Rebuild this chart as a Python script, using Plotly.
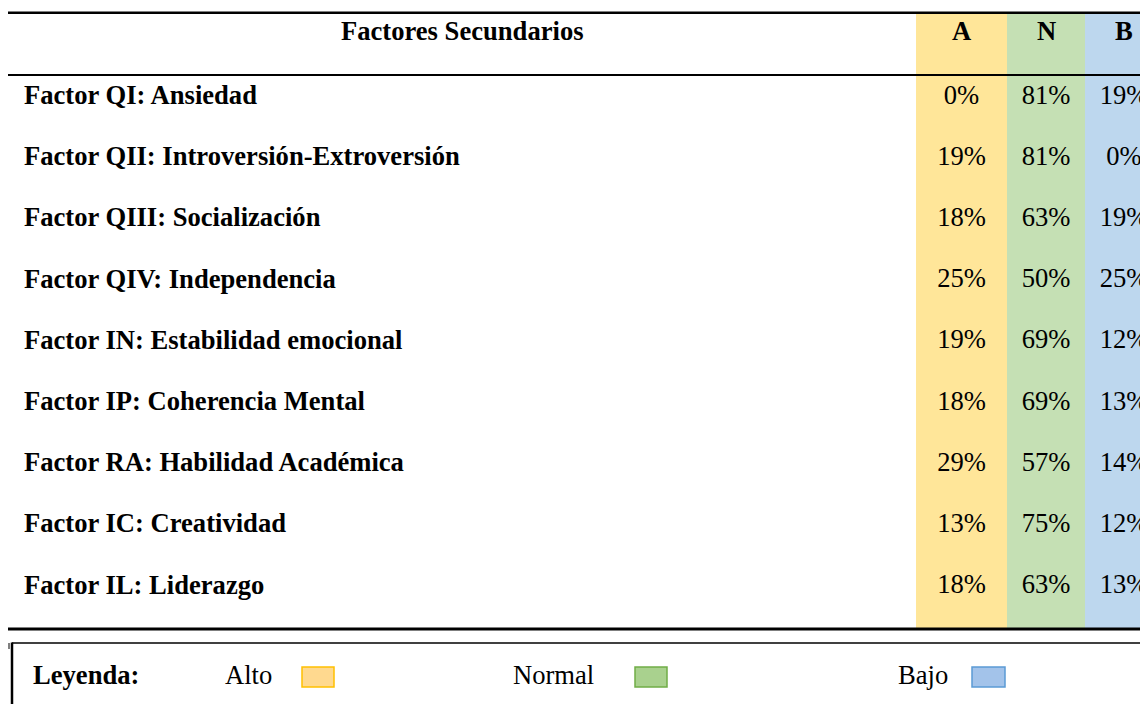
import plotly.graph_objects as go

# ---------------- data ----------------
header_title = "Factores Secundarios"
col_headers = ["A", "N", "B"]
factores = [
    "Factor QI: Ansiedad",
    "Factor QII: Introversión-Extroversión",
    "Factor QIII: Socialización",
    "Factor QIV: Independencia",
    "Factor IN: Estabilidad emocional",
    "Factor IP: Coherencia Mental",
    "Factor RA: Habilidad Académica",
    "Factor IC: Creatividad",
    "Factor IL: Liderazgo",
]
alto = [0, 19, 18, 25, 19, 18, 29, 13, 18]
normal = [81, 81, 63, 50, 69, 69, 57, 75, 63]
bajo = [19, 0, 19, 25, 12, 13, 14, 12, 13]
legend_title = "Leyenda:"
legend_labels = ["Alto", "Normal", "Bajo"]

# ---------------- layout / style ----------------
W, H = 1148, 704          # browser window
OFF = 8                   # default page margin around the figure
FONT = "Liberation Serif, Times New Roman, serif"
FS = 26.6
col_fill = ["#FFE699", "#C5E0B4", "#BDD7EE"]
sw_fill = ["#FFD98F", "#A9D18E", "#A3C3EA"]
sw_line = ["#FFC000", "#70AD47", "#5B9BD5"]
col_edges = [(916, 1007), (1007, 1085), (1085, 1163)]
col_centers = [(a + b) / 2 for a, b in col_edges]
col_centers[2] = 1124
table_top, header_line, table_bottom = 12.7, 75, 629
row_y0, row_step = 95, 61.2
row_ys = [row_y0 + i * row_step for i in range(len(factores))]
header_y = 31

fig = go.Figure()

shapes = []
for (x0, x1), c in zip(col_edges, col_fill):
    shapes.append(dict(type="rect", xref="x", yref="y", x0=x0, x1=x1,
                       y0=table_top, y1=table_bottom, fillcolor=c,
                       line=dict(width=0), layer="below"))
# rules
shapes += [
    dict(type="line", xref="x", yref="y", x0=8, x1=W, y0=table_top, y1=table_top,
         line=dict(color="black", width=2.5)),
    dict(type="line", xref="x", yref="y", x0=8, x1=W, y0=header_line, y1=header_line,
         line=dict(color="black", width=2)),
    dict(type="line", xref="x", yref="y", x0=8, x1=W, y0=table_bottom, y1=table_bottom,
         line=dict(color="black", width=3)),
    dict(type="line", xref="x", yref="y", x0=12, x1=W, y0=643, y1=643,
         line=dict(color="black", width=1.5)),
    dict(type="line", xref="x", yref="y", x0=12, x1=12, y0=642.5, y1=H,
         line=dict(color="black", width=2.5)),
    dict(type="line", xref="x", yref="y", x0=9, x1=9, y0=643, y1=649,
         line=dict(color="black", width=1)),
]

# value columns as text traces
for vals, cx in zip([alto, normal, bajo], col_centers):
    fig.add_trace(go.Scatter(
        x=[cx] * len(vals), y=[y + 2 for y in row_ys], mode="text",
        text=[f"{v}%" for v in vals], textposition="middle center",
        textfont=dict(family=FONT, size=FS, color="black"),
        hoverinfo="skip", showlegend=False, cliponaxis=True))

annotations = []
annotations.append(dict(x=462, y=header_y, xref="x", yref="y", text=f"<b>{header_title}</b>",
                        showarrow=False, xanchor="center", yanchor="middle",
                        font=dict(family=FONT, size=FS, color="black")))
for h, cx in zip(col_headers, col_centers):
    annotations.append(dict(x=cx, y=header_y, xref="x", yref="y", text=f"<b>{h}</b>",
                            showarrow=False, xanchor="center", yanchor="middle",
                            font=dict(family=FONT, size=FS, color="black")))
for f, y in zip(factores, row_ys):
    annotations.append(dict(x=24, y=y, xref="x", yref="y", text=f"<b>{f}</b>",
                            showarrow=False, xanchor="left", yanchor="middle",
                            xshift=-2,
                            font=dict(family=FONT, size=FS, color="black")))

# legend
leg_y = 675
annotations.append(dict(x=33, y=leg_y, xref="x", yref="y", text=f"<b>{legend_title}</b>",
                        showarrow=False, xanchor="left", yanchor="middle", xshift=-2,
                        font=dict(family=FONT, size=FS, color="black")))
leg_text_x = [225, 513, 898]
leg_sw_x = [(302, 334), (635, 667), (972, 1005)]
for lab, tx, (s0, s1), f, l in zip(legend_labels, leg_text_x, leg_sw_x, sw_fill, sw_line):
    annotations.append(dict(x=tx, y=leg_y, xref="x", yref="y", text=lab,
                            showarrow=False, xanchor="left", yanchor="middle", xshift=-2,
                            font=dict(family=FONT, size=FS, color="black")))
    shapes.append(dict(type="rect", xref="x", yref="y", x0=s0, x1=s1, y0=667, y1=687,
                       fillcolor=f, line=dict(color=l, width=1.5)))

# figure occupies the window minus the page margin; axes are in window pixels
fig.update_layout(
    width=W - OFF, height=H - OFF, margin=dict(l=0, r=0, t=0, b=0),
    paper_bgcolor="white", plot_bgcolor="white",
    xaxis=dict(range=[OFF, W], visible=False, fixedrange=True),
    yaxis=dict(range=[H, OFF], visible=False, fixedrange=True),
    shapes=shapes, annotations=annotations, showlegend=False,
)
fig.write_html("out.html")
